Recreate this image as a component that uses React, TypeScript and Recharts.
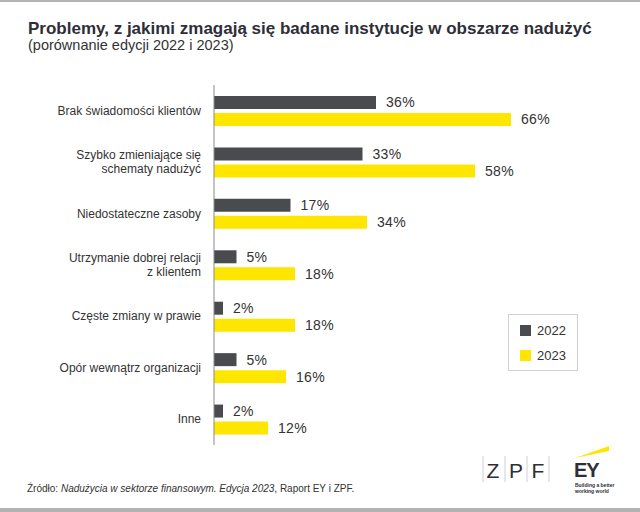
import { BarChart, Bar, XAxis, YAxis, LabelList } from "recharts";

const categories = [
  "Brak świadomości klientów",
  "Szybko zmieniające się\nschematy nadużyć",
  "Niedostateczne zasoby",
  "Utrzymanie dobrej relacji\nz klientem",
  "Częste zmiany w prawie",
  "Opór wewnątrz organizacji",
  "Inne",
];
const values2022 = [36, 33, 17, 5, 2, 5, 2];
const values2023 = [66, 58, 34, 18, 18, 16, 12];
const seriesNames = ["2022", "2023"];

const GRAY = "#4a4b4e";
const YELLOW = "#ffe600";
const FONT = "'Liberation Sans', Arial, sans-serif";

const chartData = categories.map((name, i) => ({
  name,
  y2022: values2022[i],
  y2023: values2023[i],
}));

function CategoryTick(props: any) {
  const { x, y, payload } = props;
  const lines = String(payload.value).split("\n");
  const lineH = 14.5;
  const startY = y - ((lines.length - 1) * lineH) / 2;
  return (
    <text x={x} y={startY} textAnchor="end" fill="#333" fontSize={12} fontFamily={FONT} dominantBaseline="central">
      {lines.map((l, i) => (
        <tspan key={i} x={x} y={startY + i * lineH}>
          {l}
        </tspan>
      ))}
    </text>
  );
}

function LegendBox() {
  return (
    <div
      style={{
        position: "absolute",
        left: 508,
        top: 314,
        width: 70,
        height: 57,
        boxSizing: "border-box",
        border: "1px solid #d0d0d0",
        fontFamily: FONT,
        fontSize: 13,
        color: "#333",
        paddingTop: 9,
        paddingLeft: 11,
      }}
    >
      {seriesNames.map((s, i) => (
        <div key={s} style={{ display: "flex", alignItems: "center", height: 12, marginBottom: i === 0 ? 13 : 0 }}>
          <span style={{ width: 11, height: 11, background: i === 0 ? GRAY : YELLOW, marginRight: 6 }} />
          {s}
        </div>
      ))}
    </div>
  );
}

export default function App() {
  return (
    <div style={{ position: "absolute", left: 0, top: 0, width: 640, height: 512, background: "#fff", overflow: "hidden" }}>
      <div style={{ position: "absolute", left: 0, top: 0, width: 640, height: 2, background: "#b3b3b3" }} />
      <div style={{ position: "absolute", left: 0, top: 508, width: 640, height: 4, background: "#b3b3b3" }} />

      {/* title */}
      <div style={{ position: "absolute", left: 28, top: 19, fontFamily: FONT, fontWeight: 700, fontSize: 17, color: "#2e2e38", whiteSpace: "nowrap" }}>
        Problemy, z jakimi zmagają się badane instytucje w obszarze nadużyć
      </div>
      <div style={{ position: "absolute", left: 28, top: 37, fontFamily: FONT, fontSize: 14.5, color: "#333", whiteSpace: "nowrap" }}>
        (porównanie edycji 2022 i 2023)
      </div>

      <div style={{ position: "absolute", left: 0, top: 0 }}>
        <BarChart
          width={640}
          height={512}
          data={chartData}
          layout="vertical"
          margin={{ top: 85, right: 66, bottom: 67, left: 0 }}
          barSize={13}
          barGap={4}
        >
          <XAxis type="number" domain={[0, 80]} hide />
          <YAxis
            type="category"
            dataKey="name"
            width={214}
            axisLine={{ stroke: "#8a8a8a" }}
            tickLine={false}
            tick={<CategoryTick />}
            tickMargin={7}
            interval={0}
          />
          <Bar dataKey="y2022" name="2022" fill={GRAY} isAnimationActive={false}>
            <LabelList
              dataKey="y2022"
              position="right"
              offset={10}
              formatter={(v: any) => `${v}%`}
              style={{ fill: "#333", fontSize: 14, fontFamily: FONT, letterSpacing: 0.3 }}
            />
          </Bar>
          <Bar dataKey="y2023" name="2023" fill={YELLOW} isAnimationActive={false}>
            <LabelList
              dataKey="y2023"
              position="right"
              offset={10}
              formatter={(v: any) => `${v}%`}
              style={{ fill: "#333", fontSize: 14, fontFamily: FONT, letterSpacing: 0.3 }}
            />
          </Bar>
        </BarChart>
      </div>

      <LegendBox />

      {/* source */}
      <div style={{ position: "absolute", left: 27, top: 483, fontFamily: FONT, fontSize: 10, color: "#333", whiteSpace: "nowrap" }}>
        Źródło: <i>Nadużycia w sektorze finansowym. Edycja 2023</i>, Raport EY i ZPF.
      </div>

      {/* logos */}
      <svg style={{ position: "absolute", left: 470, top: 440 }} width={170} height={60}>
        {[13, 35, 57, 79].map((x) => (
          <line key={x} x1={x} x2={x} y1={16} y2={42} stroke="#cfcfd6" strokeWidth={1} />
        ))}
        <text x={23} y={38} fontFamily={FONT} fontSize={21} fill="#2e2e38" textAnchor="middle">Z</text>
        <text x={46} y={38} fontFamily={FONT} fontSize={21} fill="#2e2e38" textAnchor="middle">P</text>
        <text x={68} y={38} fontFamily={FONT} fontSize={21} fill="#2e2e38" textAnchor="middle">F</text>
        <polygon points="105,18 139,6 139,11" fill={YELLOW} />
        <text x={104} y={37} fontFamily={FONT} fontSize={20} fontWeight={700} fill="#2e2e38" letterSpacing={-1}>EY</text>
        <text x={105} y={46.5} fontFamily={FONT} fontSize={5} fontWeight={700} fill="#2e2e38">Building a better</text>
        <text x={105} y={52.5} fontFamily={FONT} fontSize={5} fontWeight={700} fill="#2e2e38">working world</text>
      </svg>
    </div>
  );
}
